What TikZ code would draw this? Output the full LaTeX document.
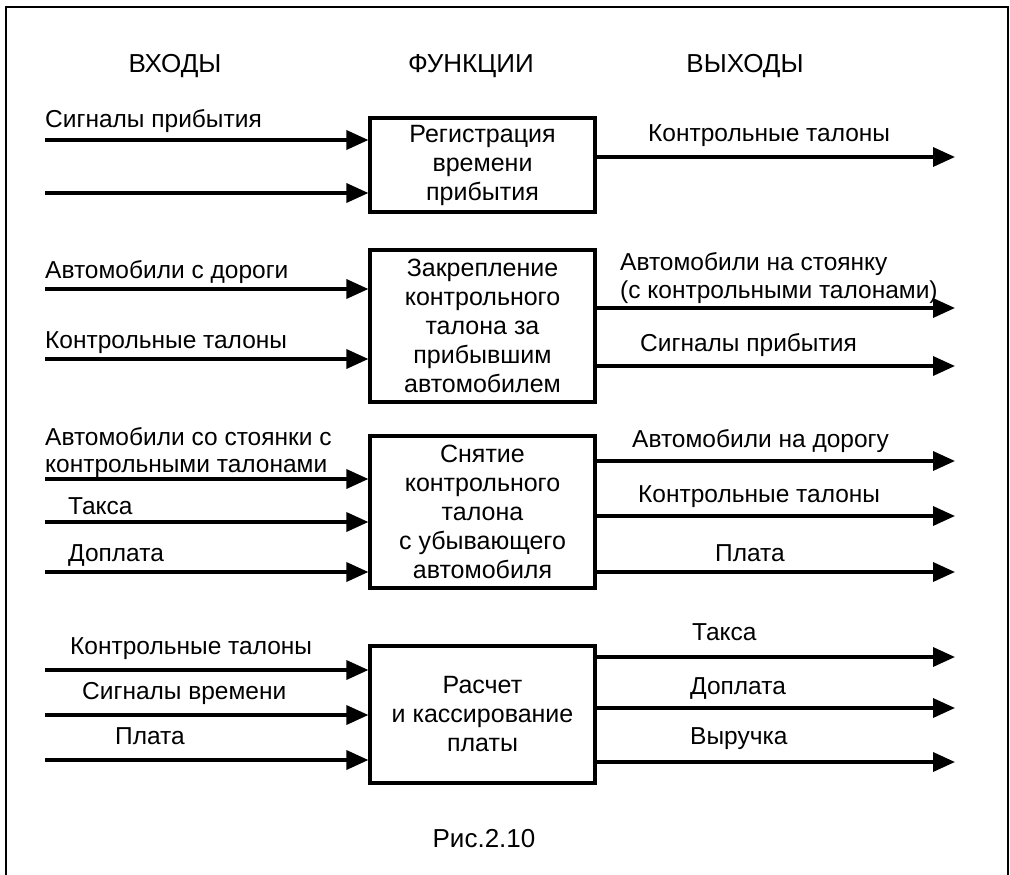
\documentclass[tikz,border=0pt]{standalone}
\usepackage{fontspec}
\setmainfont{Liberation Sans}
\usetikzlibrary{arrows.meta}
\begin{document}
\begin{tikzpicture}[x=1pt,y=-1pt,
  lbl/.style={anchor=base west,inner sep=0pt,font=\fontsize{24.5}{29}\selectfont},
  hdr/.style={anchor=base,inner sep=0pt,font=\fontsize{26}{30}\selectfont},
  fbox/.style={draw,line width=3.2pt,minimum width=225pt,inner sep=0pt,align=center,font=\fontsize{25}{29}\selectfont},
  arr/.style={line width=3.5pt,-{Triangle[length=22pt,width=19pt]}},
  frame/.style={line width=2pt}]
\useasboundingbox (0,0) rectangle (1010,875);
\draw[frame] (6,7) rectangle (1008,900);

% headers
\node[hdr] (h1) at (175,73) {ВХОДЫ};
\node[hdr] (h2) at (471,73) {ФУНКЦИИ};
\node[hdr] (h3) at (745,73) {ВЫХОДЫ};

% boxes
\node[fbox,minimum height=94pt] (b1) at (482.5,165) {Регистрация\\времени\\прибытия};
\node[fbox,minimum height=152pt] (b2) at (482.5,326) {Закрепление\\контрольного\\талона за\\прибывшим\\автомобилем};
\node[fbox,minimum height=152pt] (b3) at (482.5,512) {Снятие\\контрольного\\талона\\с убывающего\\автомобиля};
\node[fbox,minimum height=137pt] (b4) at (482.5,714.5) {Расчет\\и кассирование\\платы};

% input start points
\coordinate (i11) at (45,140);
\coordinate (i12) at (45,193);
\coordinate (i21) at (45,289);
\coordinate (i22) at (45,359);
\coordinate (i31) at (45,479);
\coordinate (i32) at (45,522);
\coordinate (i33) at (45,572);
\coordinate (i41) at (45,670);
\coordinate (i42) at (45,715);
\coordinate (i43) at (45,760);
% output end points
\coordinate (o11) at (955,157);
\coordinate (o21) at (955,308);
\coordinate (o22) at (955,366);
\coordinate (o31) at (955,461);
\coordinate (o32) at (955,516);
\coordinate (o33) at (955,572);
\coordinate (o41) at (955,657);
\coordinate (o42) at (955,708);
\coordinate (o43) at (955,762);

% input arrows
\draw[arr] (i11) -- (i11 -| b1.west);
\draw[arr] (i12) -- (i12 -| b1.west);
\draw[arr] (i21) -- (i21 -| b2.west);
\draw[arr] (i22) -- (i22 -| b2.west);
\draw[arr] (i31) -- (i31 -| b3.west);
\draw[arr] (i32) -- (i32 -| b3.west);
\draw[arr] (i33) -- (i33 -| b3.west);
\draw[arr] (i41) -- (i41 -| b4.west);
\draw[arr] (i42) -- (i42 -| b4.west);
\draw[arr] (i43) -- (i43 -| b4.west);
% output arrows
\draw[arr] (o11 -| b1.east) -- (o11);
\draw[arr] (o21 -| b2.east) -- (o21);
\draw[arr] (o22 -| b2.east) -- (o22);
\draw[arr] (o31 -| b3.east) -- (o31);
\draw[arr] (o32 -| b3.east) -- (o32);
\draw[arr] (o33 -| b3.east) -- (o33);
\draw[arr] (o41 -| b4.east) -- (o41);
\draw[arr] (o42 -| b4.east) -- (o42);
\draw[arr] (o43 -| b4.east) -- (o43);

% input labels
\node[lbl] (l11) at (45,127) {Сигналы прибытия};
\node[lbl] (l21) at (45,278) {Автомобили с дороги};
\node[lbl] (l22) at (45,348) {Контрольные талоны};
\node[lbl] (l31a) at (45,445) {Автомобили со стоянки с};
\node[lbl] (l31b) at (45,472) {контрольными талонами};
\node[lbl] (l32) at (68,514) {Такса};
\node[lbl] (l33) at (68,561) {Доплата};
\node[lbl] (l41) at (70,654) {Контрольные талоны};
\node[lbl] (l42) at (82,699) {Сигналы времени};
\node[lbl] (l43) at (115,744) {Плата};
% output labels
\node[lbl] (m11) at (648,141) {Контрольные талоны};
\node[lbl] (m21a) at (620,270) {Автомобили на стоянку};
\node[lbl] (m21b) at (620,298) {(с контрольными талонами)};
\node[lbl] (m22) at (640,351) {Сигналы прибытия};
\node[lbl] (m31) at (632,447) {Автомобили на дорогу};
\node[lbl] (m32) at (638,502) {Контрольные талоны};
\node[lbl] (m33) at (715,561) {Плата};
\node[lbl] (m41) at (692,640) {Такса};
\node[lbl] (m42) at (690,694) {Доплата};
\node[lbl] (m43) at (690,744) {Выручка};

% caption
\node[hdr] (cap) at (484,847) {Рис.2.10};
\end{tikzpicture}
\end{document}
